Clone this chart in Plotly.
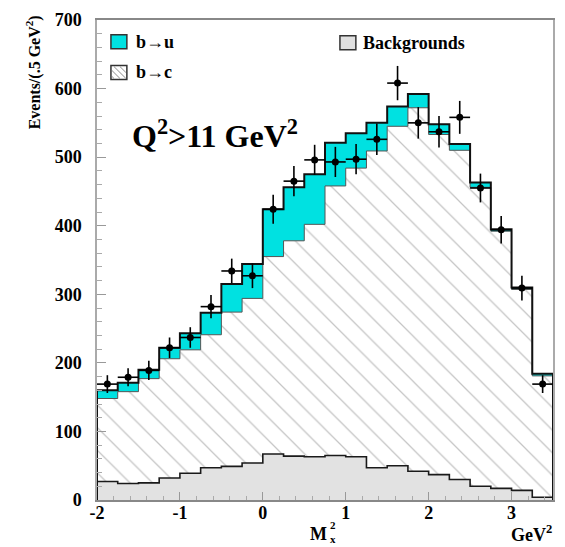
import plotly.graph_objects as go

# M_X^2 bin centres (GeV^2), 0.25 GeV^2 wide bins
m2_centers = [-1.875, -1.625, -1.375, -1.125, -0.875, -0.625, -0.375, -0.125,
              0.125, 0.375, 0.625, 0.875, 1.125, 1.375, 1.625, 1.875,
              2.125, 2.375, 2.625, 2.875, 3.125, 3.375]
bin_width = 0.25

# stacked components (events per bin)
backgrounds = [27, 24, 25, 32, 39, 47, 49, 54, 67, 64, 63, 65, 63, 47, 50, 42, 37, 30, 20, 17, 14, 4]
b_to_c = [121, 134, 152, 174, 180, 194, 225, 240, 288, 314, 339, 393, 421, 462, 495, 530, 496, 480, 436, 375, 293, 177]
b_to_u = [12, 13, 13, 16, 24, 32, 41, 50, 69, 78, 73, 63, 51, 41, 29, 20, 15, 9, 7, 3, 3, 3]

# measured data with statistical errors
data_counts = [169, 179, 189, 222, 237, 282, 334, 327, 424, 465, 496, 493, 497, 526, 608, 550, 537, 558, 455, 394, 309, 169]
data_errors = [13, 13, 14, 15, 15, 17, 18, 18, 21, 22, 22, 22, 22, 23, 25, 23, 23, 24, 21, 20, 18, 13]

x_ticks = [-2, -1, 0, 1, 2, 3]
y_ticks = [0, 100, 200, 300, 400, 500, 600, 700]

CYAN = "#00e1e1"
BKG_GREY = "#e2e2e2"
FONT = "Liberation Serif"

edges = [c - bin_width / 2 for c in m2_centers] + [m2_centers[-1] + bin_width / 2]
hatch_top = [b + c for b, c in zip(backgrounds, b_to_c)]
total_top = [h + u for h, u in zip(hatch_top, b_to_u)]


def step(values, drop=True):
    xs, ys = ([edges[0]], [0]) if drop else ([], [])
    for i, v in enumerate(values):
        xs += [edges[i], edges[i + 1]]
        ys += [v, v]
    if drop:
        xs.append(edges[-1])
        ys.append(0)
    return xs, ys


fig = go.Figure()

bx, by = step(backgrounds)
fig.add_trace(go.Scatter(x=bx, y=by, mode="lines", fill="tozeroy",
                         fillcolor=BKG_GREY, line=dict(color="#1a1a1a", width=1.6),
                         hoverinfo="skip", showlegend=False))

hx, hy = step(hatch_top)
fig.add_trace(go.Scatter(x=hx, y=hy, mode="lines", fill="tonexty", fillcolor="white",
                         fillpattern=dict(shape="\\", fgcolor="#8c8c8c", bgcolor="white",
                                          size=16, solidity=0.08),
                         line=dict(color="#555555", width=1),
                         hoverinfo="skip", showlegend=False))

tx, ty = step(total_top)
fig.add_trace(go.Scatter(x=tx, y=ty, mode="lines", fill="tonexty", fillcolor=CYAN,
                         line=dict(color="#111111", width=2),
                         hoverinfo="skip", showlegend=False))

fig.add_trace(go.Scatter(
    x=m2_centers, y=data_counts, mode="markers",
    marker=dict(color="black", size=7),
    error_y=dict(type="data", array=data_errors, color="black", thickness=1.6, width=0),
    error_x=dict(type="constant", value=bin_width / 2, color="black", thickness=1.6, width=0),
    showlegend=False))

X0, X1, Y0, Y1 = 97, 555, 15, 500  # plot area in pixels


def dx(px):
    return (px - X0) / (X1 - X0)


def dy(py):
    return (Y1 - py) / (Y1 - Y0)


shapes = []
annotations = []

# legend swatches
def swatch(x0, y0, x1, y1, fill):
    shapes.append(dict(type="rect", xref="x domain", yref="y domain",
                       x0=dx(x0), x1=dx(x1), y0=dy(y1), y1=dy(y0),
                       fillcolor=fill, line=dict(color="#333333", width=1.5)))


swatch(111, 30, 127, 44, CYAN)
swatch(111, 61, 127, 75, "white")
# hatching inside the b->c swatch
for c in [-10, -4, 2, 8]:
    pts = []
    x0, x1, y0, y1 = 112, 126, 62, 74
    # line: x - y = c + 50 (screen coordinates)
    for x in (x0, x1):
        y = x - c - 50
        if y0 <= y <= y1:
            pts.append((x, y))
    for y in (y0, y1):
        x = y + c + 50
        if x0 <= x <= x1:
            pts.append((x, y))
    pts = sorted(set(pts))
    if len(pts) >= 2:
        (ax, ay), (bx2, by2) = pts[0], pts[-1]
        shapes.append(dict(type="line", xref="x domain", yref="y domain",
                           x0=dx(ax), y0=dy(ay), x1=dx(bx2), y1=dy(by2),
                           line=dict(color="#8c8c8c", width=1)))
swatch(341, 31, 357, 45, "#e0e0e0")


def label(text, px, py, size, xanchor="left", yanchor="middle", angle=0):
    annotations.append(dict(text=text, xref="x domain", yref="y domain",
                            x=dx(px), y=dy(py), xanchor=xanchor, yanchor=yanchor,
                            showarrow=False, textangle=angle,
                            font=dict(family=FONT, size=size, color="black")))


label("<b>b→u</b>", 134, 37, 18)
label("<b>b→c</b>", 134, 68, 18)
label("<b>Backgrounds</b>", 362, 38, 18)
label("<b>Q<sup>2</sup>&gt;11 GeV<sup>2</sup></b>", 130, 130, 32)

# axis titles
label("<b>Events/(.5 GeV<sup>2</sup>)</b>", 33, 8, 16, xanchor="center", yanchor="top", angle=-90)
label("<b>M</b>", 330, 534, 18, xanchor="right")
label("<b>2</b>", 329, 525, 11)
label("<b>x</b>", 329, 539.5, 11)
label("<b>GeV<sup>2</sup></b>", 556, 534, 18, xanchor="right")

fig.update_layout(
    width=565, height=547, autosize=False,
    margin=dict(l=X0, r=565 - X1, t=Y0, b=547 - Y1),
    paper_bgcolor="white", plot_bgcolor="white",
    shapes=shapes, annotations=annotations,
    xaxis=dict(range=[-2, 3.5], tickvals=x_ticks, ticktext=[f"<b>{t}</b>" for t in x_ticks],
               ticks="inside", ticklen=8, tickcolor="#999999", tickwidth=1,
               minor=dict(dtick=0.2, tick0=-2, ticks="inside", ticklen=4, tickcolor="#aaaaaa"),
               showline=True, linecolor="#888888", linewidth=1.5, mirror=True,
               showgrid=False, zeroline=False, ticklabelstandoff=-4,
               tickfont=dict(family=FONT, size=18, color="black")),
    yaxis=dict(range=[0, 700], tickvals=y_ticks, ticktext=[f"<b>{t}</b>" for t in y_ticks],
               ticks="inside", ticklen=9, tickcolor="#999999", tickwidth=1,
               minor=dict(dtick=20, ticks="inside", ticklen=5, tickcolor="#aaaaaa"),
               showline=True, linecolor="#aaaaaa", linewidth=1.5, mirror=True,
               showgrid=False, zeroline=False, ticklabelstandoff=10,
               tickfont=dict(family=FONT, size=18, color="black")),
)

fig.write_html("out.html")
